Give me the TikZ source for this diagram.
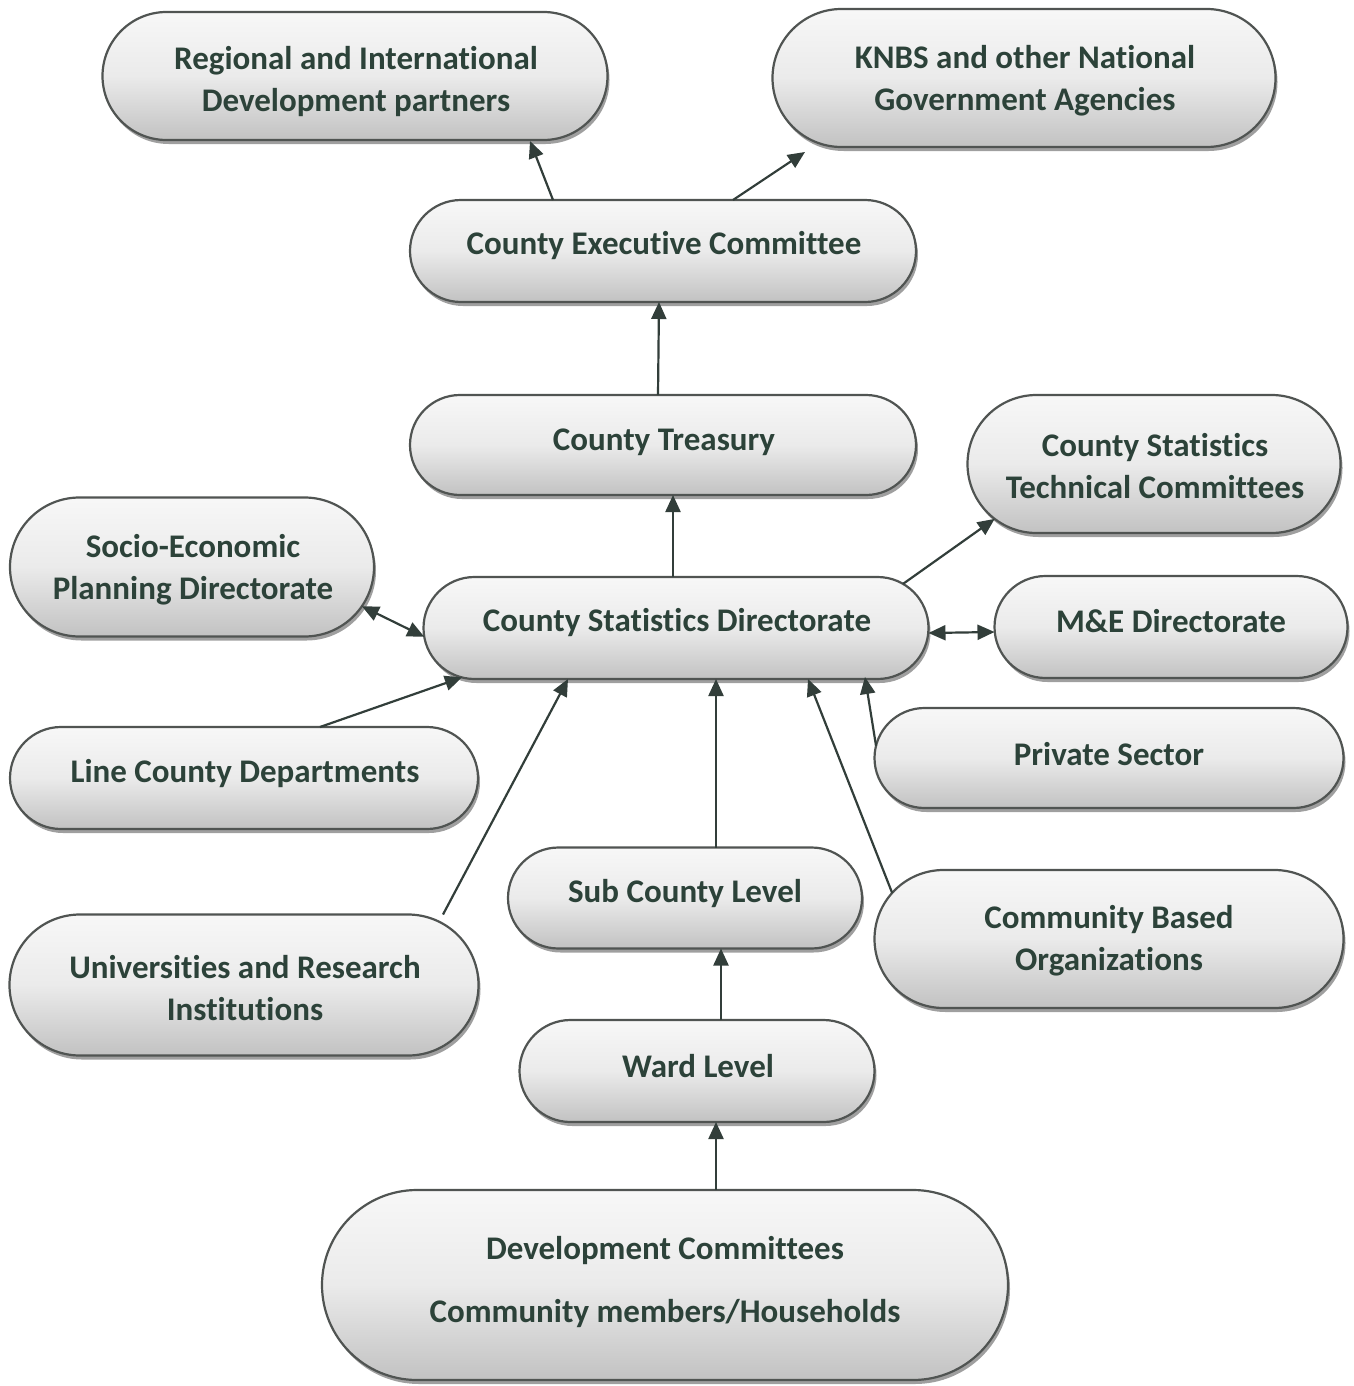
\documentclass[tikz,border=0pt]{standalone}
\usepackage{fontspec}
\setmainfont{Carlito}[Ligatures={NoCommon}]
\usetikzlibrary{shapes.misc,shadows,arrows.meta}
\definecolor{txtc}{RGB}{44,66,57}
\definecolor{linec}{RGB}{50,62,58}
\definecolor{bordc}{RGB}{80,84,82}
\tikzset{
  box/.style={rounded rectangle, draw=bordc, line width=2.2pt,
    top color=gray!6, bottom color=gray!48, middle color=gray!16,
    drop shadow={shadow xshift=2pt, shadow yshift=-4pt, fill=gray!75, opacity=1},
    inner sep=0pt, outer sep=0pt},
  txt/.style={text=txtc, font=\bfseries\fontsize{33}{42}\selectfont, align=center, inner sep=0pt, yshift=-2pt},
  arr/.style={draw=linec, line width=2.2pt, -{Triangle[length=17pt,width=15pt]}},
  darr/.style={draw=linec, line width=2.2pt, {Triangle[length=17pt,width=15pt]}-{Triangle[length=17pt,width=15pt]}}
}
\begin{document}
\begin{tikzpicture}[x=1pt,y=-1pt]
\useasboundingbox (0,0) rectangle (1353,1386);
% nodes
\node[box, minimum width=505, minimum height=128] (reg) at (355,76) {};
\node[txt] (regt) at (356,80) {Regional and International\\Development partners};
\node[box, minimum width=503, minimum height=138] (knbs) at (1024,78) {};
\node[txt] (knbst) at (1025,79) {KNBS and other National\\Government Agencies};
\node[box, minimum width=506, minimum height=102] (cec) at (663,251) {};
\node[txt] (cect) at (664,244) {County Executive Committee};
\node[box, minimum width=506, minimum height=100] (tre) at (663,445) {};
\node[txt] (tret) at (664,440) {County Treasury};
\node[box, minimum width=373, minimum height=138] (cstc) at (1154,464) {};
\node[txt] (cstct) at (1155,464) {County Statistics\\Technical Committees};
\node[box, minimum width=364, minimum height=139] (soc) at (192,567) {};
\node[txt] (soct) at (193,568) {Socio-Economic\\Planning Directorate};
\node[box, minimum width=505, minimum height=102] (csd) at (676,628) {};
\node[txt] (csdt) at (677,621) {County Statistics Directorate};
\node[box, minimum width=353, minimum height=102] (me) at (1171,627) {};
\node[txt] (met) at (1171,619) {M\&E Directorate};
\node[box, minimum width=468, minimum height=102] (line) at (244,778) {};
\node[txt] (linet) at (245,772) {Line County Departments};
\node[box, minimum width=469, minimum height=100] (priv) at (1109,758) {};
\node[txt] (privt) at (1109,752) {Private Sector};
\node[box, minimum width=354, minimum height=101] (sub) at (685,898) {};
\node[txt] (subt) at (685,892) {Sub County Level};
\node[box, minimum width=469, minimum height=138] (cbo) at (1109,939) {};
\node[txt] (cbot) at (1109,939) {Community Based\\Organizations};
\node[box, minimum width=469, minimum height=141] (univ) at (244,985) {};
\node[txt] (univt) at (245,986) {Universities and Research\\Institutions};
\node[box, minimum width=355, minimum height=102] (ward) at (697,1071) {};
\node[txt] (wardt) at (698,1064) {Ward Level};
\node[box, minimum width=686, minimum height=190] (dev) at (665,1285) {};
\node[txt, font=\bfseries\fontsize{33}{63}\selectfont] (devt) at (665,1280) {Development Committees\\Community members/Households};
% connectors
\draw[arr] ([xshift=-110]cec.north) -- ([xshift=175,yshift=-1]reg.south);
\draw[arr] ([xshift=70]cec.north) -- ([xshift=-219,yshift=-5]knbs.south);
\draw[arr] ([xshift=-5]tre.north) -- ([xshift=-4]cec.south);
\draw[arr] ([xshift=-3]csd.north) -- ([xshift=10]tre.south);
\draw[arr] (csd.11) -- (cstc.199);
\draw[darr] (soc.-13) -- (csd.182);
\draw[darr] ([yshift=-5]csd.east) -- ([yshift=-5]me.west);
\draw[arr] ([xshift=76]line.north) -- (csd.193);
\draw[arr] ([xshift=199]univ.north) -- ([xshift=-108]csd.south);
\draw[arr] ([xshift=31]sub.north) -- ([xshift=40]csd.south);
\draw[arr] (cbo.168) -- ([xshift=132]csd.south);
\draw[arr] (priv.177) -- ([xshift=189,yshift=2]csd.south);
\draw[arr] ([xshift=24]ward.north) -- ([xshift=36]sub.south);
\draw[arr] ([xshift=51]dev.north) -- ([xshift=19]ward.south);
\end{tikzpicture}
\end{document}
